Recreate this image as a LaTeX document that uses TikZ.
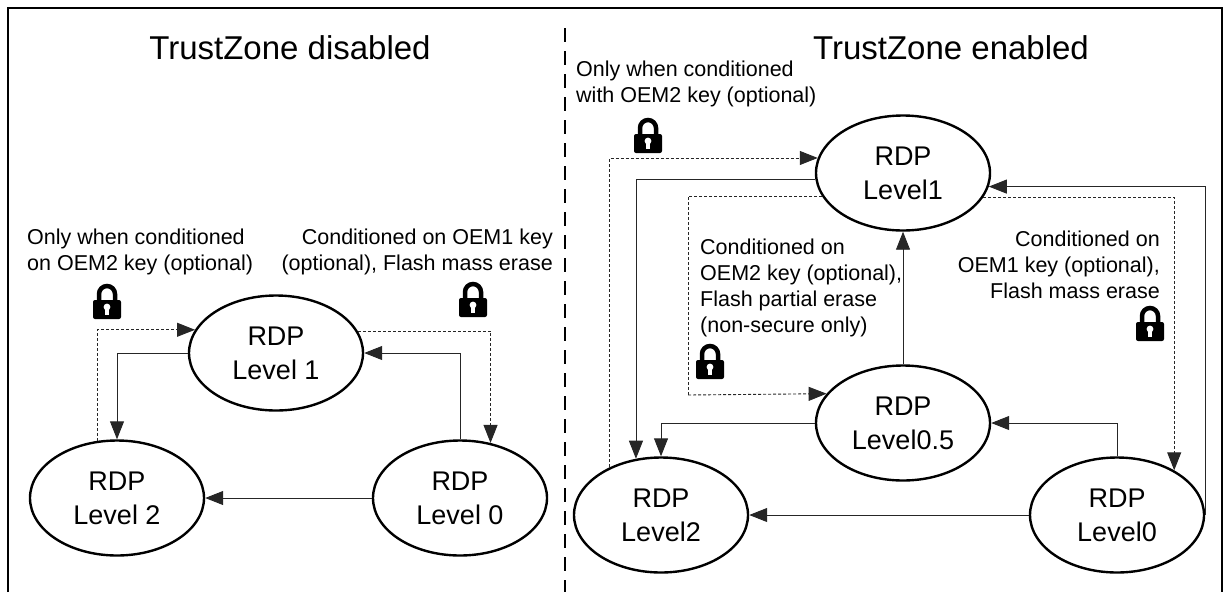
\documentclass[tikz,border=0pt]{standalone}
\usepackage{fontspec}
\setmainfont{Liberation Sans}
\usetikzlibrary{shapes.geometric,arrows.meta}
\begin{document}
\begin{tikzpicture}[x=1pt,y=-1pt,
  st/.style={ellipse,draw,line width=2.4pt,minimum width=174pt,minimum height=115pt,inner sep=0pt,align=center,font=\fontsize{27}{34}\selectfont},
  ln/.style={draw=black!85,line width=0.9pt},
  dsh/.style={ln,dash pattern=on 3pt off 2pt},
  arr/.style={-{Triangle[length=18pt,width=14pt]}},
  note/.style={font=\fontsize{21.5}{26}\selectfont,inner sep=0pt},
  ttl/.style={font=\fontsize{33}{36}\selectfont,inner sep=0pt},
  lock/.pic={
    \draw[line width=4.5pt] (-8,0) -- (-8,-8) arc[start angle=180,end angle=360,radius=8] -- (8,0);
    \fill[rounded corners=2pt] (-14,-2) rectangle (14,17);
    \fill[white] (0,5) circle (3.4);
    \fill[white] (-1.7,5) rectangle (1.7,12.5);
  }]
\useasboundingbox (0,0) rectangle (1230,592);
% frame
\draw[line width=2.5pt] (8,592) -- (8,8) -- (1222,8) -- (1222,592);
\draw[line width=1.2pt,dash pattern=on 14pt off 9pt] (565,28) -- (565,592);
% titles
\node[ttl] (t1) at (290,48) {TrustZone disabled};
\node[ttl] (t2) at (951,48) {TrustZone enabled};
% left diagram
\node[st] (a1) at (276,353) {RDP\\Level 1};
\node[st] (a2) at (117,498) {RDP\\Level 2};
\node[st] (a0) at (460,498) {RDP\\Level 0};
\node[note,anchor=west,align=left] (n1) at (27,252) {Only when conditioned\\on OEM2 key (optional)};
\node[note,anchor=east,align=right] (n2) at (553,252) {Conditioned on OEM1 key\\(optional), Flash mass erase};
\pic at (107,302) {lock};
\pic at (473,300) {lock};
\draw[dsh,arr] (a2.109.8) |- (a1.164.7);
\draw[ln,arr] (a1.west) -| (a2.north);
\draw[dsh,arr] (a1.15.3) -| (a0.61.6);
\draw[ln,arr] (a0.north) |- (a1.east);
\draw[ln,arr] (a0.west) -- (a2.east);
% right diagram
\node[st] (b1) at (903,173) {RDP\\Level1};
\node[st] (b5) at (903,423) {RDP\\Level0.5};
\node[st] (b2) at (661,515) {RDP\\Level2};
\node[st] (b0) at (1117,515) {RDP\\Level0};
\node[note,anchor=west,align=left] (n3) at (576,84) {Only when conditioned\\with OEM2 key (optional)};
\node[note,anchor=west,align=left] (n4) at (700,288) {Conditioned on\\OEM2 key (optional),\\Flash partial erase\\(non-secure only)};
\node[note,anchor=east,align=right] (n5) at (1160,265) {Conditioned on\\OEM1 key (optional),\\Flash mass erase};
\pic at (648,136) {lock};
\pic at (710,362) {lock};
\pic at (1150,324) {lock};
\coordinate (c1) at (688,395);
\draw[dsh,arr] (b2.137.3) |- (b1.170.6);
\draw[ln,arr] (b1.184.6) -| (b2.114.2);
\draw[dsh] (b1.196.1) -| (c1);
\draw[dsh,arr] (c1) -- (b5.159.8);
\draw[ln,arr] (b5.west) -| (b2.north);
\draw[ln,arr] (b5.north) -- (b1.south);
\draw[dsh,arr] (b1.343.9) -| (b0.38.4);
\draw[ln,arr] (b0.east) |- (b1.351.3);
\draw[ln,arr] (b0.north) |- (b5.east);
\draw[ln,arr] (b0.west) -- (b2.east);
\end{tikzpicture}
\end{document}
